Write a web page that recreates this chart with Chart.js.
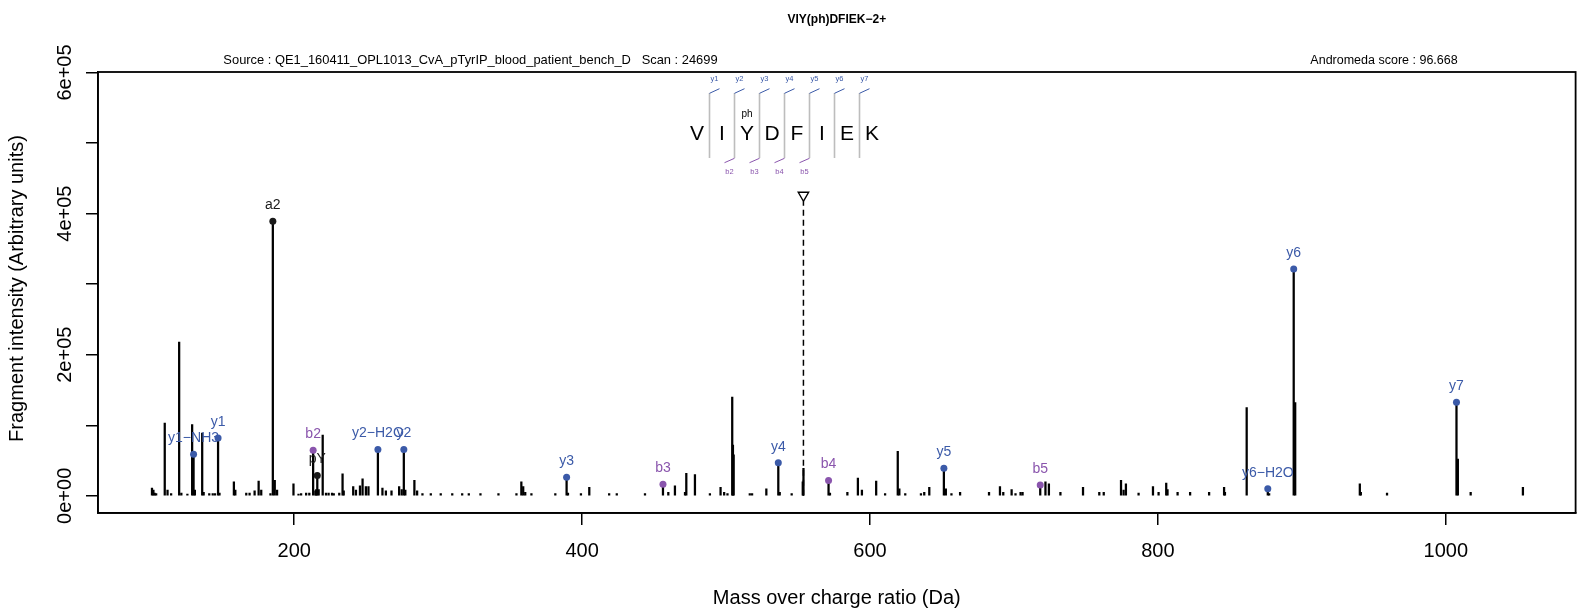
<!DOCTYPE html>
<html>
<head>
<meta charset="utf-8">
<script src="https://cdn.jsdelivr.net/npm/chart.js@4.4.1/dist/chart.umd.min.js"></script>
<style>
  body { margin: 0; background: #fff; }
</style>
</head>
<body>
<canvas id="spectrum" width="1583" height="609"></canvas>
<script>
// all fragment peaks (m/z, intensity)
const peakMz = [
  101.2, 102.2, 103.0, 104.1, 110.07, 112.0, 114.5, 120.08, 121.6, 125.8,
  129.10, 130.09, 131.0, 136.08, 137.1, 141.0, 143.4, 145.0, 147.11, 148.1,
  158.1, 159.1, 166.7, 169.0, 172.5, 175.3, 177.1, 183.5, 185.16, 186.5,
  188.1, 199.5, 203.0, 204.8, 208.3, 210.5, 213.16, 214.7, 215.3, 216.04,
  217.0, 219.8, 222.1, 223.9, 226.3, 227.5, 231.3, 233.6, 234.4, 241.0,
  242.9, 245.7, 247.5, 249.8, 251.6, 258.15, 261.3, 263.7, 267.6, 272.9,
  274.7, 276.16, 277.2, 283.5, 285.4, 289.1, 294.9, 301.8, 309.8, 316.7,
  321.3, 329.4, 341.9, 354.4, 357.8, 359.1, 360.5, 364.8, 381.4, 389.24,
  390.2, 399.2, 405.0, 418.8, 424.1, 443.7, 456.19, 459.9, 464.5, 471.5,
  472.4, 478.4, 488.8, 496.2, 498.7, 501.0, 504.3, 504.8, 505.3, 516.5,
  518.1, 528.0, 536.31, 537.3, 545.6, 553.3, 553.8, 571.22, 572.2, 584.3,
  591.6, 594.4, 604.3, 610.5, 619.3, 620.4, 624.5, 635.4, 637.7, 641.2,
  651.34, 652.7, 656.6, 662.6, 682.7, 690.3, 692.6, 698.4, 701.1, 704.6,
  706.0, 718.28, 721.9, 724.3, 732.3, 748.0, 759.3, 762.4, 774.4, 776.2,
  777.8, 786.6, 796.6, 800.5, 805.8, 806.7, 813.7, 822.4, 835.6, 846.0,
  846.6, 861.7, 876.36, 877.3, 894.37, 895.4, 940.3, 941.0, 959.2, 1007.45,
  1008.4, 1017.3, 1053.6
];
const peakIntensity = [
  11000, 8000, 4000, 3000, 103000, 8000, 3000, 218000, 4000, 2500,
  101000, 59000, 8000, 89000, 5000, 3000, 3000, 3000, 82000, 4000,
  20000, 8000, 4000, 4000, 7000, 21000, 8000, 3000, 389000, 22000,
  8000, 17000, 2500, 3000, 4000, 4000, 64600, 7000, 9000, 28700,
  9000, 86000, 4000, 4000, 4000, 3000, 4000, 31000, 7000, 13000,
  8000, 14000, 24000, 13000, 13000, 65500, 11000, 7000, 7000, 13000,
  9000, 65500, 8000, 22000, 7000, 3000, 3000, 3000, 3000, 3000,
  3000, 3000, 3000, 3000, 20000, 13000, 5000, 3000, 3000, 26400,
  4000, 3000, 12000, 3000, 3000, 3000, 16500, 5000, 14000, 5000,
  32000, 30000, 3000, 12000, 5000, 3000, 140000, 72000, 58000, 3000,
  3000, 10000, 46700, 5000, 3000, 20000, 39000, 21700, 4000, 5000,
  25000, 8000, 21000, 3000, 63000, 10000, 3000, 3000, 5000, 12000,
  39000, 10000, 3000, 5000, 5000, 13000, 5000, 9000, 3000, 5000,
  5000, 15500, 20000, 17000, 5000, 12000, 5000, 5000, 22000, 8000,
  17000, 4000, 13000, 5000, 18000, 9000, 5000, 5000, 5000, 12000,
  5000, 125000, 9900, 3000, 321600, 132000, 17000, 5000, 4000, 132500,
  52000, 5000, 12000
];

// annotated fragment ions
const ionLabels = ['y1\u2212NH3', 'y1', 'a2', 'b2', 'pY', 'y2\u2212H2O', 'y2', 'y3', 'b3', 'y4', 'b4', 'y5', 'b5', 'y6\u2212H2O', 'y6', 'y7'];
const ionMz = [130.09, 147.11, 185.16, 213.16, 216.04, 258.15, 276.16, 389.24, 456.19, 536.31, 571.22, 651.34, 718.28, 876.36, 894.37, 1007.45];
const ionIntensity = [59000, 82000, 389000, 64600, 28700, 65500, 65500, 26400, 16500, 46700, 21700, 39000, 15500, 9900, 321600, 132500];
const ionColors = ['#3b5aa8', '#3b5aa8', '#1a1a1a', '#8a55ad', '#1a1a1a', '#3b5aa8', '#3b5aa8', '#3b5aa8', '#8a55ad', '#3b5aa8', '#8a55ad', '#3b5aa8', '#8a55ad', '#3b5aa8', '#3b5aa8', '#3b5aa8'];

const precursorMz = 553.77;
const precursorMark = 426000;

const xTicks = [200, 400, 600, 800, 1000];
const xTickLabels = ['200', '400', '600', '800', '1000'];
const yTicks = [0, 100000, 200000, 300000, 400000, 500000, 600000];
const yTickLabels = ['0e+00', '', '2e+05', '', '4e+05', '', '6e+05'];

const sequence = ['V', 'I', 'Y', 'D', 'F', 'I', 'E', 'K'];
const yIonNames = ['y1', 'y2', 'y3', 'y4', 'y5', 'y6', 'y7'];
const bIonNames = ['', 'b2', 'b3', 'b4', 'b5', '', ''];

const FONT = '"Liberation Sans", Arial, sans-serif';
const BLUE = '#3b5aa8';
const PURPLE = '#8a55ad';

const decorations = {
  id: 'decorations',
  afterDraw(chart) {
    const ctx = chart.ctx;
    const a = chart.chartArea;
    const xs = chart.scales.x, ys = chart.scales.y;
    ctx.save();
    // box
    ctx.strokeStyle = '#000';
    ctx.lineWidth = 1.8;
    ctx.strokeRect(a.left, a.top, a.right - a.left, a.bottom - a.top);

    ctx.fillStyle = '#000';
    ctx.font = '20px ' + FONT;
    ctx.textAlign = 'center';
    ctx.textBaseline = 'alphabetic';
    xTicks.forEach((v, i) => ctx.fillText(xTickLabels[i], xs.getPixelForValue(v), 557));
    ctx.fillText('Mass over charge ratio (Da)', (a.left + a.right) / 2, 604);

    yTicks.forEach((v, i) => {
      if (!yTickLabels[i]) return;
      ctx.save();
      ctx.translate(70.5, ys.getPixelForValue(v));
      ctx.rotate(-Math.PI / 2);
      ctx.fillText(yTickLabels[i], 0, 0);
      ctx.restore();
    });
    ctx.save();
    ctx.translate(22.7, (a.top + a.bottom) / 2 - 4);
    ctx.rotate(-Math.PI / 2);
    ctx.fillText('Fragment intensity (Arbitrary units)', 0, 0);
    ctx.restore();

    ctx.font = 'bold 12px ' + FONT;
    ctx.fillText('VIY(ph)DFIEK\u22122+', (a.left + a.right) / 2, 22.5);
    ctx.font = '12.9px ' + FONT;
    ctx.fillText('Source : QE1_160411_OPL1013_CvA_pTyrIP_blood_patient_bench_D   Scan : 24699', 470.5, 64);
    ctx.font = '12.5px ' + FONT;
    ctx.fillText('Andromeda score : 96.668', 1384, 64);

    // ion labels
    ctx.font = '14px ' + FONT;
    ctx.textBaseline = 'middle';
    chart.getDatasetMeta(3).data.forEach((pt, i) => {
      ctx.fillStyle = ionColors[i];
      ctx.fillText(ionLabels[i], pt.x, pt.y - 16);
    });

    // peptide sequence annotation
    const x0 = 697, step = 25;
    ctx.textBaseline = 'alphabetic';
    ctx.font = '21px ' + FONT;
    ctx.fillStyle = '#000';
    sequence.forEach((s, i) => ctx.fillText(s, x0 + i * step, 140));
    ctx.font = '10px ' + FONT;
    ctx.fillText('ph', x0 + 2 * step, 117);
    for (let i = 0; i < 7; i++) {
      const sx = x0 + step / 2 + i * step;
      ctx.strokeStyle = '#bdbdbd';
      ctx.lineWidth = 1.6;
      ctx.beginPath(); ctx.moveTo(sx, 93); ctx.lineTo(sx, 158); ctx.stroke();
      ctx.strokeStyle = BLUE;
      ctx.lineWidth = 1;
      ctx.beginPath(); ctx.moveTo(sx, 93.3); ctx.lineTo(sx + 10, 88.7); ctx.stroke();
      ctx.fillStyle = BLUE;
      ctx.font = '7.5px ' + FONT;
      ctx.fillText(yIonNames[i], sx + 5, 80.7);
      if (bIonNames[i]) {
        ctx.strokeStyle = PURPLE;
        ctx.beginPath(); ctx.moveTo(sx - 10, 162.7); ctx.lineTo(sx, 158.3); ctx.stroke();
        ctx.fillStyle = PURPLE;
        ctx.fillText(bIonNames[i], sx - 5, 174.3);
      }
    }
    ctx.restore();
  }
};

const axisGrid = { display: true, offset: false, drawOnChartArea: false, drawTicks: true, tickLength: 12, color: '#000', lineWidth: 1.5 };

new Chart(document.getElementById('spectrum').getContext('2d'), {
  type: 'bar',
  data: {
    datasets: [
      {
        type: 'bar',
        data: peakMz.map((m, i) => ({ x: m, y: peakIntensity[i] })),
        backgroundColor: '#000',
        barThickness: 1.6,
        order: 4
      },
      {
        type: 'line',
        data: [{ x: precursorMz, y: 0 }, { x: precursorMz, y: precursorMark - 8500 }],
        borderColor: '#000',
        borderWidth: 1.5,
        borderDash: [6, 4],
        pointRadius: 0,
        order: 3
      },
      {
        type: 'scatter',
        data: [{ x: precursorMz, y: precursorMark }],
        pointStyle: 'triangle',
        rotation: 180,
        pointRadius: 6,
        borderColor: '#000',
        backgroundColor: '#fff',
        borderWidth: 1.4,
        order: 2
      },
      {
        type: 'scatter',
        data: ionMz.map((m, i) => ({ x: m, y: ionIntensity[i] })),
        pointRadius: 3.5,
        pointBackgroundColor: ionColors,
        pointBorderWidth: 0,
        order: 1
      }
    ]
  },
  options: {
    responsive: false,
    animation: false,
    layout: { padding: { left: 0, right: 3, top: 72, bottom: 0 } },
    plugins: { legend: { display: false }, tooltip: { enabled: false } },
    scales: {
      x: {
        type: 'linear', min: 63.7, max: 1090.2, offset: false,
        grid: axisGrid,
        border: { display: true, color: '#000', width: 1.5 },
        ticks: { display: false },
        afterBuildTicks: s => { s.ticks = xTicks.map(v => ({ value: v })); },
        afterFit: s => { s.height = 96; }
      },
      y: {
        type: 'linear', min: -24350, max: 600700,
        grid: axisGrid,
        border: { display: true, color: '#000', width: 1.5 },
        ticks: { display: false },
        afterBuildTicks: s => { s.ticks = yTicks.map(v => ({ value: v })); },
        afterFit: s => { s.width = 98; }
      }
    }
  },
  plugins: [decorations]
});
</script>
</body>
</html>
